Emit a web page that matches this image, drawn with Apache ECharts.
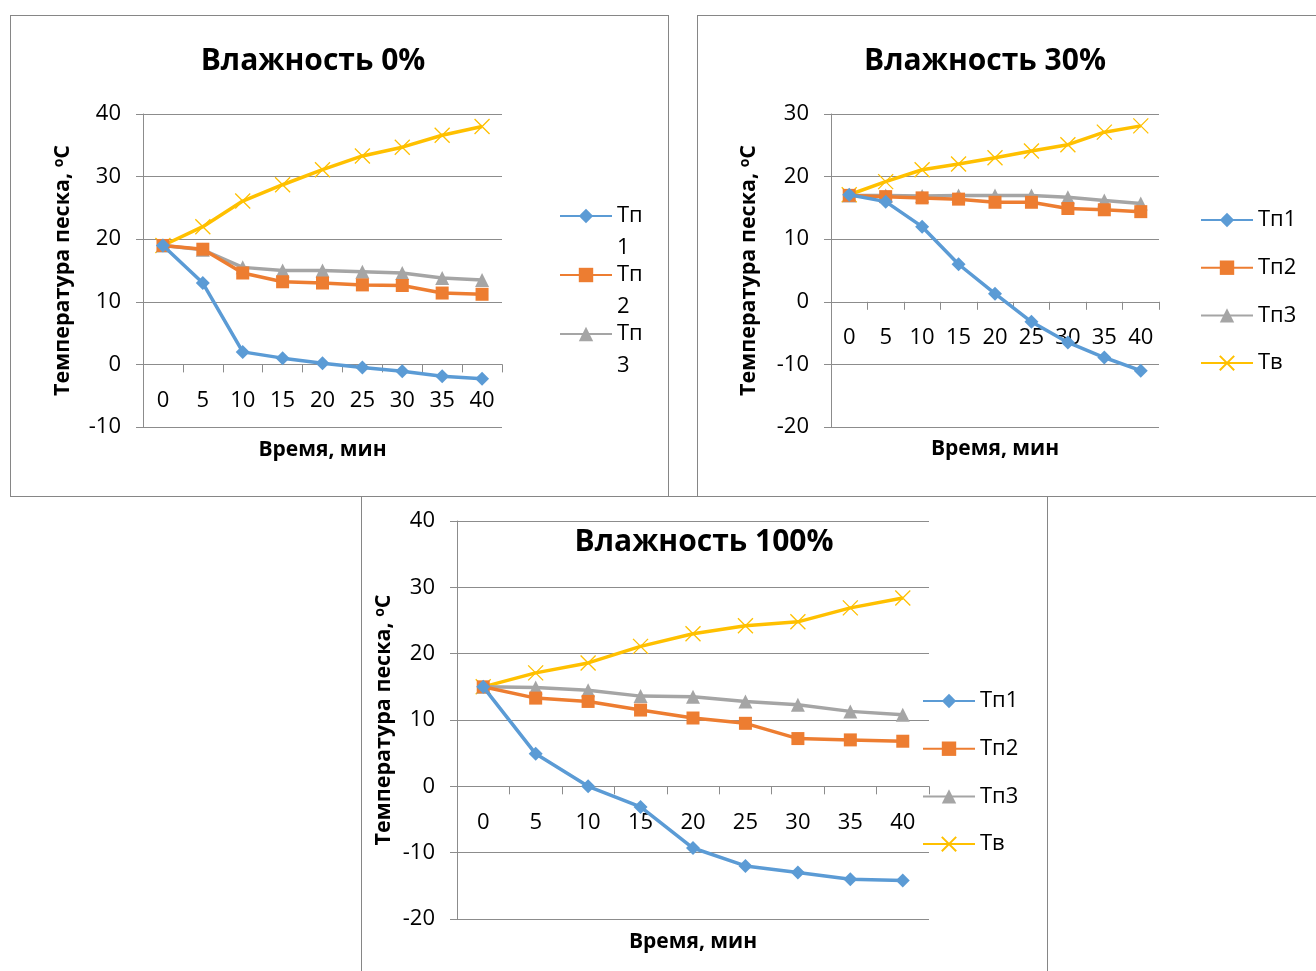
<!DOCTYPE html>
<html>
<head>
<meta charset="utf-8">
<script src="https://cdn.jsdelivr.net/npm/echarts@6/dist/echarts.min.js"></script>
<style>
  html, body { margin: 0; padding: 0; background: #fff; width: 1316px; height: 971px; overflow: hidden; }
  .box { position: absolute; box-sizing: border-box; border: 1px solid #868686; background: #fff; }
</style>
</head>
<body>
<div id="c1" class="box" style="left:10px; top:15px; width:659px; height:482px;"></div>
<div id="c2" class="box" style="left:697px; top:15px; width:640px; height:482px;"></div>
<div id="c3" class="box" style="left:361px; top:496px; width:687px; height:490px;"></div>
<script>
// ---- data ----
var categories = ['0', '5', '10', '15', '20', '25', '30', '35', '40'];

// Влажность 0%
var h0_tp1 = [19, 13.0, 2.0, 1.0, 0.2, -0.5, -1.1, -1.9, -2.3];
var h0_tp2 = [19, 18.4, 14.6, 13.2, 13.0, 12.7, 12.6, 11.4, 11.2];
var h0_tp3 = [19, 18.3, 15.5, 15.0, 15.0, 14.8, 14.6, 13.8, 13.5];
var h0_tv  = [19, 22.0, 26.1, 28.7, 31.1, 33.3, 34.7, 36.6, 38.0];

// Влажность 30%
var h30_tp1 = [17.1, 16.0, 12.0, 6.0, 1.3, -3.2, -6.5, -8.9, -11.0];
var h30_tp2 = [17.0, 16.8, 16.6, 16.4, 15.9, 15.9, 14.9, 14.7, 14.4];
var h30_tp3 = [17.0, 17.0, 16.9, 17.0, 17.0, 17.0, 16.7, 16.2, 15.7];
var h30_tv  = [17.1, 19.2, 21.1, 22.0, 23.0, 24.1, 25.1, 27.1, 28.1];

// Влажность 100%
var h100_tp1 = [15.0, 4.9, 0.0, -3.1, -9.3, -12.0, -13.0, -14.0, -14.2];
var h100_tp2 = [15.0, 13.3, 12.8, 11.5, 10.3, 9.5, 7.2, 7.0, 6.8];
var h100_tp3 = [15.0, 14.9, 14.5, 13.6, 13.5, 12.8, 12.3, 11.3, 10.8];
var h100_tv  = [15.0, 17.1, 18.6, 21.1, 23.0, 24.2, 24.8, 26.9, 28.4];

var seriesNames = ['Тп1', 'Тп2', 'Тп3', 'Тв'];
var xAxisName = 'Время, мин';
var yAxisName = 'Температура песка, {s|о}С';

// ---- style ----
var FONT = '"Open Sans", "Noto Sans", Lato, sans-serif';
var GRID = '#8c8c8c';
var COLORS = ['#5B9BD5', '#ED7D31', '#A5A5A5', '#FFC000'];
var SYMBOLS = ['diamond', 'rect', 'triangle', 'path://M0,0L10,10M10,0L0,10'];
var SIZES = [14, 13, 14, 15];

function makeSeries(dataArrs) {
  return dataArrs.map(function (d, i) {
    return {
      name: seriesNames[i],
      type: 'line',
      xAxisIndex: 0,
      yAxisIndex: 0,
      data: d,
      symbol: SYMBOLS[i],
      symbolSize: SIZES[i],
      showAllSymbol: true,
      z: 10 - i,
      lineStyle: { color: COLORS[i], width: 3.5 },
      itemStyle: { color: COLORS[i], borderColor: COLORS[i], borderWidth: i === 3 ? 1.3 : 0 },
      emphasis: { disabled: true }
    };
  });
}

function makeOption(cfg) {
  var g = cfg.grid;
  // category axis sits on the value 0 line: an auxiliary grid whose bottom edge is that line
  var zeroOffset = g[3] * cfg.yMax / (cfg.yMax - cfg.yMin);
  return {
    animation: false,
    textStyle: { fontFamily: FONT },
    title: {
      text: cfg.title,
      left: cfg.titleX,
      top: cfg.titleY,
      textAlign: 'center',
      padding: 0,
      textStyle: { fontFamily: FONT, fontSize: 30, fontWeight: 'bold', color: '#000' }
    },
    legend: cfg.legend,
    grid: [
      { left: g[0], top: g[1], width: g[2], height: g[3], containLabel: false, outerBoundsMode: 'none' },
      { left: g[0], top: g[1], width: g[2], height: zeroOffset, containLabel: false, outerBoundsMode: 'none' }
    ],
    xAxis: [
      {
        type: 'category', gridIndex: 0, data: categories, boundaryGap: true, show: false
      },
      {
        type: 'category', gridIndex: 1, data: categories, boundaryGap: true,
        position: 'bottom',
        axisLine: { onZero: false, lineStyle: { color: GRID, width: 1 } },
        axisTick: { show: true, inside: false, length: 8, alignWithLabel: false, lineStyle: { color: GRID } },
        axisLabel: { color: '#000', fontSize: 22, fontFamily: FONT, margin: 25, interval: 0 },
        splitLine: { show: false },
        name: xAxisName,
        nameLocation: 'middle',
        nameGap: cfg.xNameGap,
        nameMoveOverlap: false,
        nameTextStyle: { color: '#000', fontSize: 21, fontWeight: 'bold', fontFamily: FONT }
      }
    ],
    yAxis: [
      {
        type: 'value', gridIndex: 0,
        min: cfg.yMin,
        max: cfg.yMax,
        interval: 10,
        axisLine: { show: true, onZero: false, lineStyle: { color: GRID, width: 1 } },
        axisTick: { show: true, length: 7, lineStyle: { color: GRID } },
        axisLabel: { color: '#000', fontSize: 22, fontFamily: FONT, margin: 22 },
        splitLine: { show: true, lineStyle: { color: GRID, width: 1 } },
        name: yAxisName,
        nameLocation: 'middle',
        nameGap: cfg.yNameGap,
        nameRotate: 90,
        nameMoveOverlap: false,
        nameTextStyle: {
          color: '#000', fontSize: 21.5, fontWeight: 'bold', fontFamily: FONT,
          rich: { s: { fontSize: 14, fontWeight: 'bold', fontFamily: FONT, color: '#000', verticalAlign: 'top', padding: [0, 0, 8, 0] } }
        }
      },
      { type: 'value', gridIndex: 1, min: 0, max: 1, show: false }
    ],
    series: makeSeries(cfg.data)
  };
}

// chart 1: legend text wraps as in the reference (only Тп1..Тп3 visible)
var legend1 = {
  data: ['Тп1', 'Тп2', 'Тп3'],
  orient: 'vertical',
  left: 548,
  top: 152,
  itemWidth: 52,
  itemHeight: 18,
  itemGap: -37,
  padding: 0,
  formatter: function (n) { return '\n' + n.slice(0, 2) + '\n' + n.slice(2); },
  textStyle: { fontFamily: FONT, fontSize: 22, color: '#000', lineHeight: 32 },
  selectedMode: false
};

function stdLegend(left, top) {
  return {
    data: seriesNames,
    orient: 'vertical',
    left: left,
    top: top,
    itemWidth: 52,
    itemHeight: 18,
    itemGap: 25.7,
    padding: 0,
    textStyle: { fontFamily: FONT, fontSize: 22, color: '#000', lineHeight: 20 },
    selectedMode: false
  };
}

var ch1 = echarts.init(document.getElementById('c1'), null, { renderer: 'canvas' });
ch1.setOption(makeOption({
  title: 'Влажность 0%', titleX: 302, titleY: 30,
  legend: legend1,
  grid: [132, 98, 359, 313],
  yMin: -10, yMax: 40,
  xNameGap: 75, yNameGap: 69,
  data: [h0_tp1, h0_tp2, h0_tp3, h0_tv]
}));

var ch2 = echarts.init(document.getElementById('c2'), null, { renderer: 'canvas' });
ch2.setOption(makeOption({
  title: 'Влажность 30%', titleX: 287, titleY: 30,
  legend: stdLegend(502, 193),
  grid: [133, 98, 328, 313],
  yMin: -20, yMax: 30,
  xNameGap: 137, yNameGap: 71,
  data: [h30_tp1, h30_tp2, h30_tp3, h30_tv]
}));

var ch3 = echarts.init(document.getElementById('c3'), null, { renderer: 'canvas' });
ch3.setOption(makeOption({
  title: 'Влажность 100%', titleX: 342, titleY: 30,
  legend: stdLegend(560, 193),
  grid: [95, 24, 472, 398],
  yMin: -20, yMax: 40,
  xNameGap: 145, yNameGap: 62,
  data: [h100_tp1, h100_tp2, h100_tp3, h100_tv]
}));
</script>
</body>
</html>
